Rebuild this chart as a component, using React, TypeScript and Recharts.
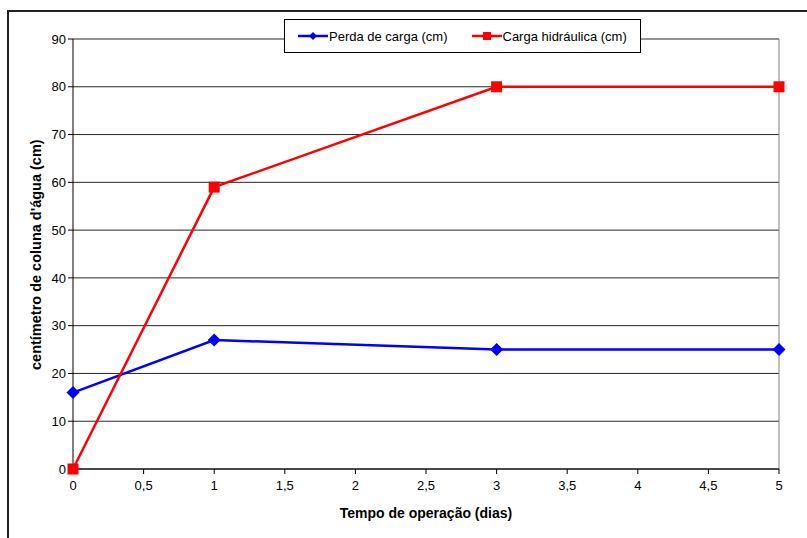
import React from 'react';
import {
  LineChart, Line, XAxis, YAxis, CartesianGrid, ReferenceLine
} from 'recharts';

const dias = [0, 1, 3, 5];
const perdaDeCarga = [16, 27, 25, 25];
const cargaHidraulica = [0, 59, 80, 80];
const xTicks = [0, 0.5, 1, 1.5, 2, 2.5, 3, 3.5, 4, 4.5, 5];
const yTicks = [0, 10, 20, 30, 40, 50, 60, 70, 80, 90];

const data = dias.map((d, i) => ({
  dia: d,
  perda: perdaDeCarga[i],
  carga: cargaHidraulica[i],
}));

const FONT = '"Liberation Sans", Arial, sans-serif';

const Diamond = (props: any) => {
  const { cx, cy } = props;
  if (cx == null || cy == null) return null;
  const r = 6.5;
  return <path d={`M${cx},${cy - r}L${cx + r},${cy}L${cx},${cy + r}L${cx - r},${cy}Z`} fill="#0000FF" />;
};

const Square = (props: any) => {
  const { cx, cy } = props;
  if (cx == null || cy == null) return null;
  const s = 11;
  return <rect x={cx - s / 2} y={cy - s / 2} width={s} height={s} fill="#FF0000" />;
};

const LegendBox = () => (
  <div style={{
    position: 'absolute', left: 284, top: 19,
    width: 357, height: 34, boxSizing: 'border-box', border: '1px solid #000', background: '#fff',
    display: 'flex', alignItems: 'center', fontFamily: FONT, fontSize: 13, color: '#000'
  }}>
    <svg width={30} height={10} style={{ marginLeft: 13 }}>
      <line x1={0} y1={5} x2={30} y2={5} stroke="#0000FF" strokeWidth={2.5} />
      <path d="M15,1L19,5L15,9L11,5Z" fill="#0000FF" />
    </svg>
    <span style={{ marginLeft: 1 }}>Perda de carga (cm)</span>
    <svg width={30} height={10} style={{ marginLeft: 24 }}>
      <line x1={0} y1={5} x2={30} y2={5} stroke="#FF0000" strokeWidth={2.5} />
      <rect x={11} y={1} width={8} height={8} fill="#FF0000" />
    </svg>
    <span style={{ marginLeft: 1 }}>Carga hidráulica (cm)</span>
  </div>
);

const fmt = (v: number) => String(v).replace('.', ',');

export default function App() {
  return (
    <div style={{ position: 'absolute', left: 0, top: 0, width: 807, height: 538, overflow: 'hidden', background: '#fff' }}>
      <div style={{
        position: 'absolute', left: 7, top: 10, width: 840, height: 560,
        border: '2px solid #222', boxSizing: 'border-box'
      }} />
      <LineChart
        width={807}
        height={538}
        data={data}
        margin={{ top: 39, right: 28, left: 0, bottom: 0 }}
        style={{ position: 'absolute', left: 0, top: 0, fontFamily: FONT }}
      >
        <CartesianGrid vertical={false} stroke="#000" strokeOpacity={0.85} />
        <ReferenceLine x={5} stroke="#808080" strokeWidth={1} />
        <XAxis
          dataKey="dia"
          type="number"
          domain={[0, 5]}
          ticks={xTicks}
          tickFormatter={fmt}
          height={69}
          stroke="#000"
          tickSize={5}
          tick={{ fill: '#000', fontSize: 13, dy: 5 }}
          label={{ value: 'Tempo de operação (dias)', position: 'insideBottom', offset: 20, fill: '#000', fontSize: 14, fontWeight: 'bold' }}
        />
        <YAxis
          type="number"
          domain={[0, 90]}
          ticks={yTicks}
          width={73}
          stroke="#000"
          tickSize={5}
          tick={{ fill: '#000', fontSize: 13 }}
          label={{ value: "centímetro de coluna d'água (cm)", angle: -90, position: 'insideLeft', offset: 36, dy: 116, fill: '#000', fontSize: 14.5, fontWeight: 'bold' }}
        />
        <Line
          dataKey="perda"
          stroke="#0000FF"
          strokeWidth={2.5}
          dot={<Diamond />}
          activeDot={false}
          isAnimationActive={false}
        />
        <Line
          dataKey="carga"
          stroke="#FF0000"
          strokeWidth={2.5}
          dot={<Square />}
          activeDot={false}
          isAnimationActive={false}
        />
      </LineChart>
      <LegendBox />
    </div>
  );
}
